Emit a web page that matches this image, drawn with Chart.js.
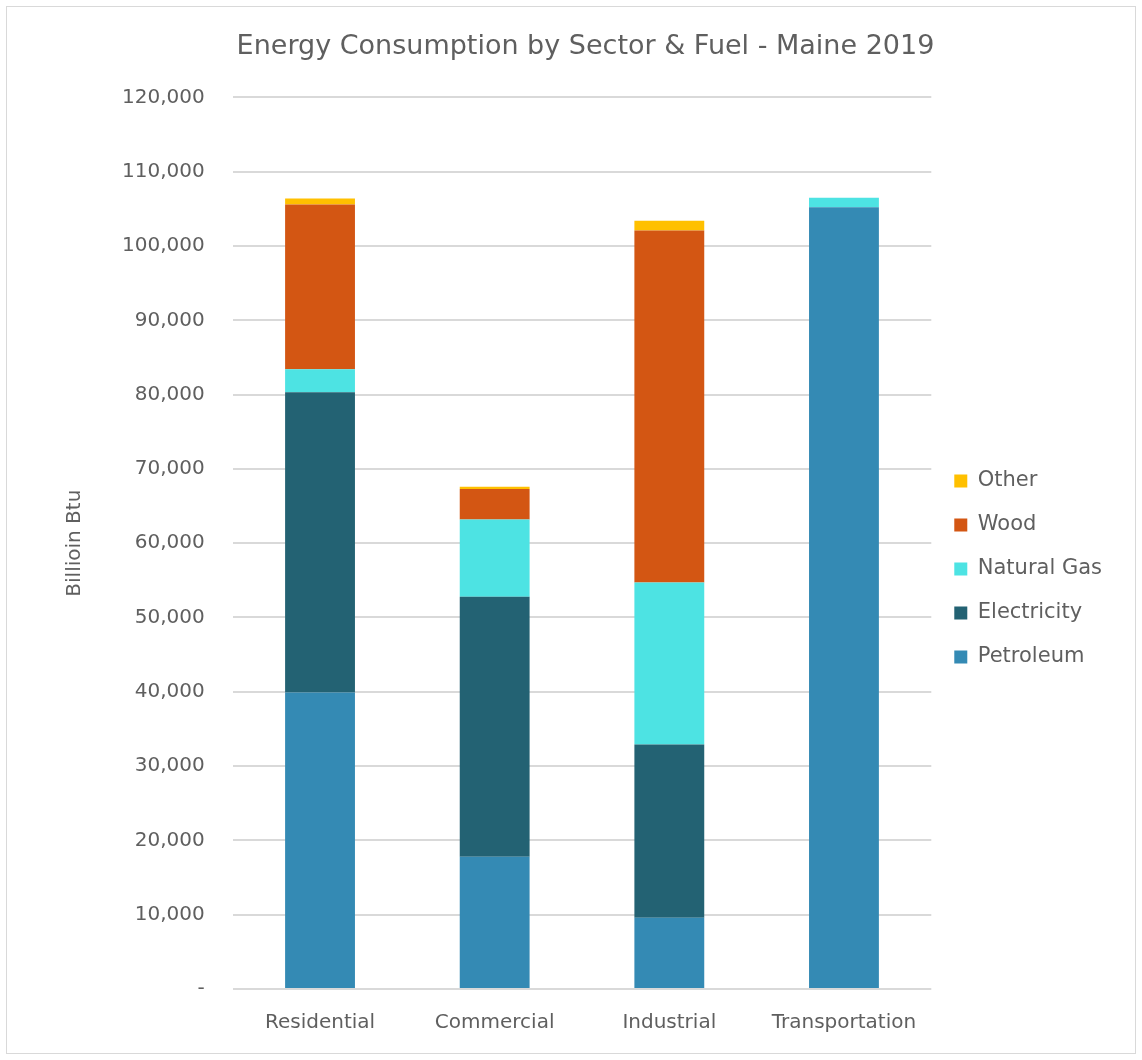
<!DOCTYPE html>
<html>
<head>
<meta charset="utf-8">
<script src="https://cdn.jsdelivr.net/npm/chart.js@4.4.1/dist/chart.umd.min.js"></script>
<style>
  html, body { margin: 0; padding: 0; background: #fff; }
  #wrap { position: absolute; left: 6px; top: 6px; width: 1128px; height: 1046px; border: 1px solid #d9d9d9; }
  canvas { position: absolute; left: 0; top: 0; }
</style>
</head>
<body>
<div id="wrap"><canvas id="chart" width="1128" height="1046"></canvas></div>
<script>
// Maine 2019 energy use by end-use sector, billion Btu
const sectors = ["Residential", "Commercial", "Industrial", "Transportation"];
const petroleum = [39900, 17800, 9600, 105200];
const electricity = [40400, 35000, 23300, 0];
const naturalGas = [3100, 10400, 21800, 1300];
const wood = [22200, 4100, 47400, 0];
const other = [800, 300, 1300, 0];

const fuelNames = ["Petroleum", "Electricity", "Natural Gas", "Wood", "Other"];
const fuelColors = ["#348ab4", "#236273", "#4de3e3", "#d35613", "#ffc000"];
const fuelValues = [petroleum, electricity, naturalGas, wood, other];

const FONT = "'DejaVu Sans', sans-serif";
const GREY = "#5f5f5f";

function plotStackedBars(elementID) {
  return new Chart(document.getElementById(elementID), {
    type: "bar",
    data: {
      labels: sectors,
      datasets: fuelNames.map((name, i) => ({
        label: name,
        data: fuelValues[i],
        backgroundColor: fuelColors[i],
        borderWidth: 0,
        barPercentage: 0.8,
        categoryPercentage: 0.5,
      })),
    },
    options: {
      responsive: false,
      animation: false,
      layout: { padding: { left: 52, right: 23, top: 10, bottom: 4 } },
      plugins: {
        title: {
          display: true,
          text: "Energy Consumption by Sector & Fuel - Maine 2019",
          color: GREY,
          font: { family: FONT, size: 27, weight: "normal" },
          padding: { top: 14, bottom: 34 },
        },
        legend: {
          position: "right",
          reverse: true,
          // blank title just pushes the key list a little below centre
          title: { display: true, text: " ", font: { size: 10 }, padding: { top: 0, bottom: 60 } },
          labels: {
            color: GREY,
            font: { family: FONT, size: 21 },
            boxWidth: 13,
            boxHeight: 13,
            padding: 23,
          },
        },
        tooltip: { enabled: false },
      },
      scales: {
        x: {
          stacked: true,
          grid: { display: false },
          border: { display: false },
          ticks: { color: GREY, font: { family: FONT, size: 20 }, padding: 14 },
        },
        y: {
          stacked: true,
          min: 0,
          max: 120000,
          title: {
            display: true,
            text: "Billioin Btu",
            color: GREY,
            font: { family: FONT, size: 20 },
            padding: { bottom: 7 },
          },
          grid: { color: "#d9d9d9", lineWidth: 2, drawTicks: false },
          border: { display: false },
          ticks: {
            stepSize: 10000,
            color: GREY,
            font: { family: FONT, size: 20 },
            padding: 28,
            callback: (v) => (v === 0 ? "-" : v.toLocaleString("en-US")),
          },
        },
      },
    },
  });
}

plotStackedBars("chart");
</script>
</body>
</html>
